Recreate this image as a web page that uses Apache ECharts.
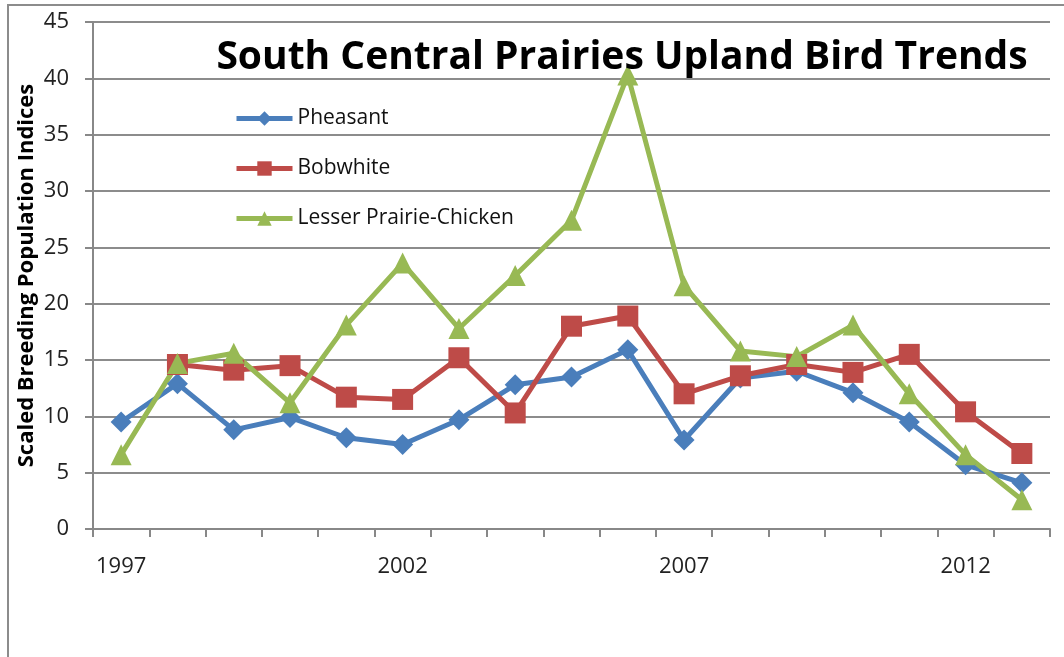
<!DOCTYPE html>
<html>
<head>
<meta charset="utf-8">
<script src="https://cdn.jsdelivr.net/npm/echarts@6/dist/echarts.min.js"></script>
<style>
  html, body { margin: 0; padding: 0; background: #fff; }
  #chart { width: 1064px; height: 657px; }
</style>
</head>
<body>
<div id="chart"></div>
<script>
var years = ["1997", "1998", "1999", "2000", "2001", "2002", "2003", "2004", "2005",
  "2006", "2007", "2008", "2009", "2010", "2011", "2012", "2013"];
var pheasant = [9.5, 12.9, 8.8, 9.9, 8.1, 7.5, 9.7, 12.8, 13.5, 15.9, 7.9, 13.4, 14.0, 12.1, 9.5, 5.7, 4.1];
var bobwhite = [null, 14.6, 14.1, 14.5, 11.7, 11.5, 15.2, 10.3, 18.0, 18.9, 12.0, 13.6, 14.6, 13.9, 15.5, 10.4, 6.7];
var prairieChicken = [6.6, 14.7, 15.6, 11.2, 18.1, 23.6, 17.8, 22.5, 27.4, 40.3, 21.6, 15.8, 15.3, 18.1, 12.0, 6.6, 2.6];

var chartDom = document.getElementById("chart");
var chart = echarts.init(chartDom);

var fontFamily = "Open Sans, Liberation Sans, sans-serif";

function makeSeries(name, data, color, symbol, size) {
  return {
    name: name,
    type: "line",
    data: data,
    symbol: symbol,
    symbolSize: size,
    connectNulls: false,
    lineStyle: { width: 5, color: color },
    itemStyle: { color: color },
  };
}

var option = {
  animation: false,
  graphic: [
    {
      type: "rect",
      shape: { x: 8, y: 5, width: 1070, height: 670 },
      style: { fill: "none", stroke: "#8c8c8c", lineWidth: 2 },
      z: -1,
    },
  ],
  title: {
    text: "South Central Prairies Upland Bird Trends",
    left: 617,
    top: 33,
    textAlign: "center",
    textStyle: {
      fontFamily: fontFamily,
      fontSize: 39,
      fontWeight: "bold",
      color: "#000",
    },
  },
  legend: {
    orient: "vertical",
    left: 229,
    top: 103,
    itemWidth: 56,
    itemHeight: 18,
    itemGap: 29,
    lineStyle: { width: 5 },
    textStyle: { fontFamily: fontFamily, fontSize: 21, color: "#111" },
    data: ["Pheasant", "Bobwhite", "Lesser Prairie-Chicken"],
  },
  grid: {
    left: 93,
    right: 14,
    top: 22,
    bottom: 128,
  },
  xAxis: {
    type: "category",
    data: years,
    boundaryGap: true,
    axisLine: { lineStyle: { color: "#888", width: 2 } },
    axisTick: { show: true, interval: 0, length: 8, lineStyle: { color: "#888", width: 2 } },
    axisLabel: {
      interval: 4,
      margin: 27,
      fontFamily: fontFamily,
      fontSize: 22,
      color: "#222",
    },
    splitLine: { show: false },
  },
  yAxis: {
    type: "value",
    min: 0,
    max: 45,
    interval: 5,
    name: "Scaled Breeding Population Indices",
    nameLocation: "middle",
    nameGap: 55,
    nameMoveOverlap: false,
    nameTextStyle: {
      fontFamily: fontFamily,
      fontSize: 22,
      fontWeight: "bold",
      color: "#000",
    },
    axisLine: { show: true, lineStyle: { color: "#888", width: 2 } },
    axisTick: { show: true, length: 8, lineStyle: { color: "#888", width: 2 } },
    axisLabel: {
      margin: 24,
      fontFamily: fontFamily,
      fontSize: 22,
      color: "#222",
    },
    splitLine: { lineStyle: { color: "#8c8c8c", width: 2 } },
  },
  series: [
    makeSeries("Pheasant", pheasant, "#4a7ebb", "diamond", 21),
    makeSeries("Bobwhite", bobwhite, "#be4b48", "rect", 21),
    makeSeries("Lesser Prairie-Chicken", prairieChicken, "#98b954", "triangle", 21),
  ],
};

if (option && typeof option === "object") {
  chart.setOption(option);
}
</script>
</body>
</html>
